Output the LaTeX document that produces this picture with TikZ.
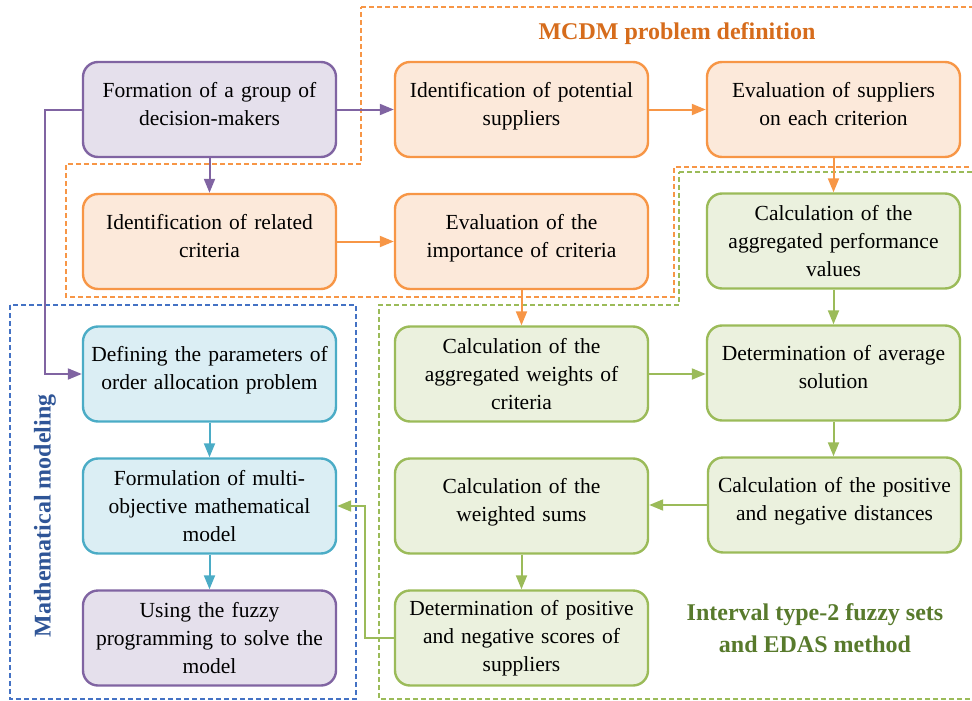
\documentclass[tikz,border=0pt]{standalone}
\usepackage{fontspec}
\setmainfont{Liberation Serif}
\usetikzlibrary{arrows.meta}
\definecolor{purpF}{RGB}{229,224,236}
\definecolor{purpD}{RGB}{128,100,162}
\definecolor{orF}{RGB}{252,233,218}
\definecolor{orD}{RGB}{247,150,70}
\definecolor{grF}{RGB}{235,241,222}
\definecolor{grD}{RGB}{155,187,89}
\definecolor{blF}{RGB}{219,238,244}
\definecolor{blD}{RGB}{75,172,198}
\definecolor{regBlue}{RGB}{68,114,196}
\definecolor{txtOr}{RGB}{214,108,28}
\definecolor{txtBl}{RGB}{47,85,151}
\definecolor{txtGr}{RGB}{88,122,44}
\newcommand{\upl}{\\[-16pt]\mbox{}}
\begin{document}
\begin{tikzpicture}[x=1pt,y=-1pt,
  box/.style={draw, rounded corners=15pt, line width=2.4pt,
    minimum width=253pt, minimum height=95pt, text width=250pt,
    align=center, inner sep=0pt, font=\fontsize{21.5}{28}\selectfont},
  purp/.style={box, draw=purpD, fill=purpF},
  oran/.style={box, draw=orD, fill=orF},
  gren/.style={box, draw=grD, fill=grF},
  blue/.style={box, draw=blD, fill=blF},
  conn/.style={line width=2pt, -{Triangle[length=14pt,width=11pt]}},
  pc/.style={conn, draw=purpD},
  oc/.style={conn, draw=orD},
  gc/.style={conn, draw=grD},
  bc/.style={conn, draw=blD},
  region/.style={line width=1.6pt, dash pattern=on 5pt off 3pt},
  title/.style={font=\fontsize{24}{32}\selectfont\bfseries, align=center}]
\useasboundingbox (0,0) rectangle (972,701);
\clip (0,0) rectangle (972,701);

% regions
\draw[region, draw=orD] (361,7) -- (985,7) -- (985,167) -- (674,167) -- (674,297)
  -- (66,297) -- (66,164) -- (361,164) -- cycle;
\draw[region, draw=grD] (679,172) -- (985,172) -- (985,699) -- (379,699)
  -- (379,305) -- (679,305) -- cycle;
\draw[region, draw=regBlue] (10,305) rectangle (356,699);

% region labels
\node[title, text=txtOr] (tm) at (677,34) {MCDM problem definition};
\node[title, text=txtBl, rotate=90] (tmm) at (45,516) {Mathematical modeling};
\node[title, text=txtGr] (ti) at (815,628) {Interval type-2 fuzzy sets\\and EDAS method};

% boxes
\node[purp] (f)   at (209.5,109.5) {Formation of a group of\\decision-makers\upl};
\node[oran] (ip)  at (521.5,109.5) {Identification of potential\\suppliers\upl};
\node[oran] (es)  at (833.5,109.5) {Evaluation of suppliers\\on each criterion\upl};
\node[oran] (irc) at (209.5,241.5) {Identification of related\\criteria\upl};
\node[oran] (ei)  at (521.5,241.5) {Evaluation of the\\importance of criteria\upl};
\node[gren] (cap) at (833.5,241)   {Calculation of the\\aggregated performance\\values};
\node[blue] (dp)  at (209.5,374)   {Defining the parameters of\\order allocation problem\upl};
\node[gren] (caw) at (521.5,374)   {Calculation of the\\aggregated weights of\\criteria};
\node[gren] (das) at (833.5,373)   {Determination of average\\solution\upl};
\node[blue] (fm)  at (209.5,506)   {Formulation of multi-\\objective mathematical\\model};
\node[gren] (cws) at (521.5,506)   {Calculation of the\\weighted sums\upl};
\node[gren] (cpn) at (834.5,505)   {Calculation of the positive\\and negative distances\upl};
\node[purp] (uf)  at (209.5,638)   {Using the fuzzy\\programming to solve the\\model};
\node[gren] (dps) at (521.5,638)   {Determination of positive\\and negative scores of\\suppliers};

% connectors
\draw[pc] (f.east) -- (ip.west);
\draw[pc] (f.south) -- (irc.north);
\draw[pc] (f.west) -- ++(-37,0) |- (dp.west);
\draw[oc] (ip.east) -- (es.west);
\draw[oc] (irc.east) -- (ei.west);
\draw[oc] (es.south) -- (cap.north);
\draw[oc] (ei.south) -- (caw.north);
\draw[gc] (cap.south) -- (das.north);
\draw[gc] (caw.east) -- (caw.east -| das.west);
\draw[gc] (das.south) -- (das.south |- cpn.north);
\draw[gc] (cpn.west) -- (cpn.west -| cws.east);
\draw[gc] (cws.south) -- (dps.north);
\draw[gc] (dps.west) -- ++(-29,0) |- (fm.east);
\draw[bc] (dp.south) -- (fm.north);
\draw[bc] (fm.south) -- (uf.north);
\end{tikzpicture}
\end{document}
